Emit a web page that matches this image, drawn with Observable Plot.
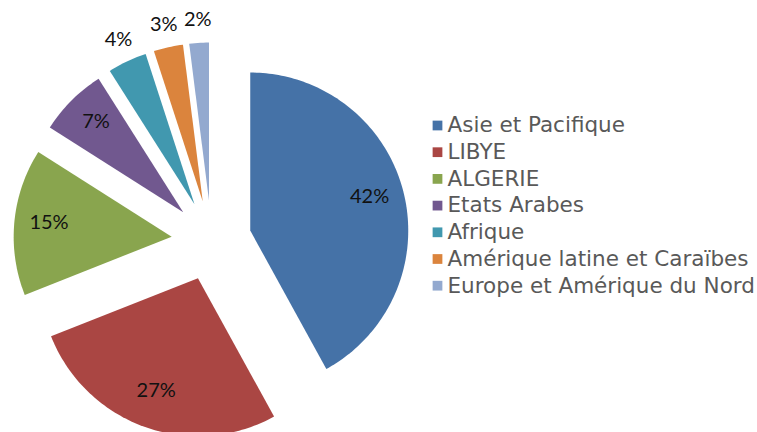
<!DOCTYPE html>
<html>
<head>
<meta charset="utf-8">
<script src="https://cdn.jsdelivr.net/npm/d3@7"></script>
<script src="https://cdn.jsdelivr.net/npm/@observablehq/plot@0.6"></script>
<style>
html,body{margin:0;padding:0;background:#fff;}
</style>
</head>
<body>
<div id="chart"></div>
<script>
const categories = ["Asie et Pacifique","LIBYE","ALGERIE","Etats Arabes","Afrique","Amérique latine et Caraïbes","Europe et Amérique du Nord"];
const values = [42, 27, 15, 7, 4, 3, 2];
const labels = ["42%","27%","15%","7%","4%","3%","2%"];
const colors = ["#4572A7","#AA4643","#89A54E","#71588F","#4198AF","#DB843D","#93A9CF"];

const W = 757, H = 432;
const cx = 211, cy = 240, R = 158, explode = 40;

const pie = d3.pie().sort(null).value(d => d.value)(categories.map((c, i) => ({category: c, value: values[i], label: labels[i]})));

const polys = [];
const labelPts = [];
pie.forEach((s, i) => {
  const mid = (s.startAngle + s.endAngle) / 2;
  const ox = cx + explode * Math.sin(mid), oy = cy - explode * Math.cos(mid);
  polys.push({x: ox, y: oy, category: s.data.category, order: 0});
  const n = Math.max(4, Math.ceil((s.endAngle - s.startAngle) / 0.02));
  for (let k = 0; k <= n; k++) {
    const a = s.startAngle + (s.endAngle - s.startAngle) * k / n;
    polys.push({x: ox + R * Math.sin(a), y: oy - R * Math.cos(a), category: s.data.category, order: k + 1});
  }
  const inside = s.data.value >= 5;
  const lr = inside ? 0.78 * R : 1.13 * R;
  labelPts.push({x: ox + lr * Math.sin(mid), y: oy - lr * Math.cos(mid) - 3, label: s.data.label});
});

const legend = categories.map((c, i) => ({category: c, i}));
const legX = 437, legY0 = 125, legDy = 26.7;

const chart = Plot.plot({
  width: W, height: H,
  margin: 0,
  x: {domain: [0, W], range: [0, W], axis: null},
  y: {domain: [0, H], range: [0, H], axis: null},
  color: {domain: categories, range: colors},
  style: {background: "#fff"},
  marks: [
    Plot.line(polys, {x: "x", y: "y", z: "category", fill: "category", stroke: null, curve: "linear-closed"}),
    Plot.text(labelPts, {x: "x", y: "y", text: "label", fontSize: 20, fill: "#111", fontFamily: "Lato, 'Open Sans', sans-serif"}),
    Plot.dot(legend, {x: () => legX, y: d => legY0 + d.i * legDy, symbol: "square", r: 5.5, fill: "category", stroke: null}),
    Plot.text(legend, {x: () => legX + 10, y: d => legY0 + d.i * legDy, text: "category", textAnchor: "start", fontSize: 21.5, fill: "#595959", fontFamily: "'DejaVu Sans', sans-serif"})
  ]
});
document.getElementById("chart").appendChild(chart);
</script>
</body>
</html>
